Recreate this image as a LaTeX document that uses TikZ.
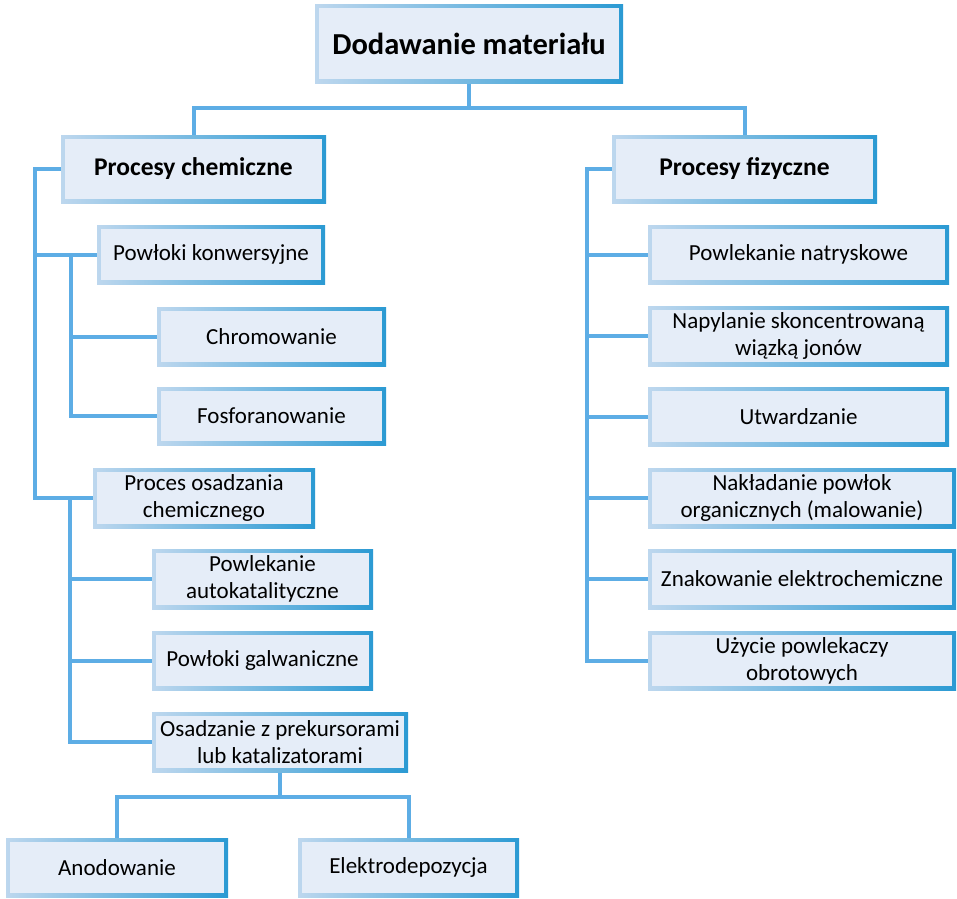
\documentclass[tikz,border=0pt]{standalone}
\usepackage{fontspec}
\setmainfont{Carlito}
\usetikzlibrary{backgrounds}
\definecolor{bL}{HTML}{BDD7EE}
\definecolor{bR}{HTML}{2B9AD3}
\definecolor{bFill}{HTML}{E5EDF8}
\definecolor{conn}{HTML}{5DADE5}
\tikzset{
  gbox/.style={shade, left color=bL, right color=bR, inner sep=0pt, align=center, text=black,
    font=\fontsize{23pt}{27pt}\selectfont,
    path picture={\fill[bFill] ([shift={(4pt,-4pt)}]path picture bounding box.north west) rectangle ([shift={(-4pt,4pt)}]path picture bounding box.south east);}},
  lvlone/.style={font=\fontsize{25.5pt}{30pt}\selectfont\bfseries},
  wire/.style={draw=conn, line width=4pt, line join=miter},
}
\begin{document}
\begin{tikzpicture}[x=1pt,y=-1pt]
\useasboundingbox (0,0) rectangle (957,898);
% coordinates for connector levels
\coordinate (h1) at (469,108);
\coordinate (h2) at (280,797);
\coordinate (lt) at (35,0);
\coordinate (st1) at (71,0);
\coordinate (st2) at (70,0);
\coordinate (rt) at (587,0);
% nodes
\node[gbox, minimum width=308pt, minimum height=79pt, font=\fontsize{30.5pt}{36pt}\selectfont\bfseries] (top) at (469,43.5) {Dodawanie materiału};
\node[gbox, lvlone, minimum width=265pt, minimum height=68pt] (chem) at (193.5,169) {Procesy chemiczne};
\node[gbox, lvlone, minimum width=265pt, minimum height=68pt] (fiz) at (744.5,169) {Procesy fizyczne};
\node[gbox, minimum width=228pt, minimum height=59pt] (pk) at (211,254.5) {Powłoki konwersyjne};
\node[gbox, minimum width=229pt, minimum height=59pt] (chrom) at (271.5,336.5) {Chromowanie};
\node[gbox, minimum width=229pt, minimum height=58pt] (fosf) at (271.5,416) {Fosforanowanie};
\node[gbox, minimum width=222pt, minimum height=60pt] (pos) at (204,498) {Proces osadzania\\chemicznego};
\node[gbox, minimum width=221pt, minimum height=60pt] (auto) at (262.5,579) {Powlekanie\\autokatalityczne};
\node[gbox, minimum width=221pt, minimum height=59pt] (galw) at (262.5,660.5) {Powłoki galwaniczne};
\node[gbox, minimum width=256pt, minimum height=60pt] (osadz) at (280,742) {Osadzanie z prekursorami\\lub katalizatorami};
\node[gbox, minimum width=222pt, minimum height=59pt] (anod) at (117,867.5) {Anodowanie};
\node[gbox, minimum width=221pt, minimum height=59pt] (elek) at (408.5,867.5) {Elektrodepozycja};
\node[gbox, minimum width=301pt, minimum height=59pt] (natr) at (798.5,254.5) {Powlekanie natryskowe};
\node[gbox, minimum width=301pt, minimum height=60pt] (napyl) at (798.5,336) {Napylanie skoncentrowaną\\wiązką jonów};
\node[gbox, minimum width=301pt, minimum height=59pt] (utw) at (798.5,416.5) {Utwardzanie};
\node[gbox, minimum width=308pt, minimum height=60pt] (nakl) at (802,498) {Nakładanie powłok\\organicznych (malowanie)};
\node[gbox, minimum width=308pt, minimum height=60pt] (znak) at (802,579) {Znakowanie elektrochemiczne};
\node[gbox, minimum width=308pt, minimum height=59pt] (uzyc) at (802,660.5) {Użycie powlekaczy\\obrotowych};
% connectors (behind boxes)
\begin{scope}[on background layer]
\draw[wire] (top.south) -- (h1);
\draw[wire] (chem.north) -- (chem.north |- h1) -- (fiz.north |- h1) -- (fiz.north);
% left chemical branch
\draw[wire] (chem.west) -- (chem.west -| lt) -- (pos.west -| lt) -- (pos.west);
\draw[wire] (pk.west -| lt) -- (pk.west);
\draw[wire] (pk.west -| st1) -- (fosf.west -| st1) -- (fosf.west);
\draw[wire] (chrom.west -| st1) -- (chrom.west);
\draw[wire] (pos.west -| st2) -- (osadz.west -| st2) -- (osadz.west);
\draw[wire] (auto.west -| st2) -- (auto.west);
\draw[wire] (galw.west -| st2) -- (galw.west);
\draw[wire] (osadz.south) -- (osadz.south |- h2);
\draw[wire] (anod.north) -- (anod.north |- h2) -- (elek.north |- h2) -- (elek.north);
% right physical branch
\draw[wire] (fiz.west) -- (fiz.west -| rt) -- (uzyc.west -| rt) -- (uzyc.west);
\draw[wire] (natr.west -| rt) -- (natr.west);
\draw[wire] (napyl.west -| rt) -- (napyl.west);
\draw[wire] (utw.west -| rt) -- (utw.west);
\draw[wire] (nakl.west -| rt) -- (nakl.west);
\draw[wire] (znak.west -| rt) -- (znak.west);
\end{scope}
\end{tikzpicture}
\end{document}
